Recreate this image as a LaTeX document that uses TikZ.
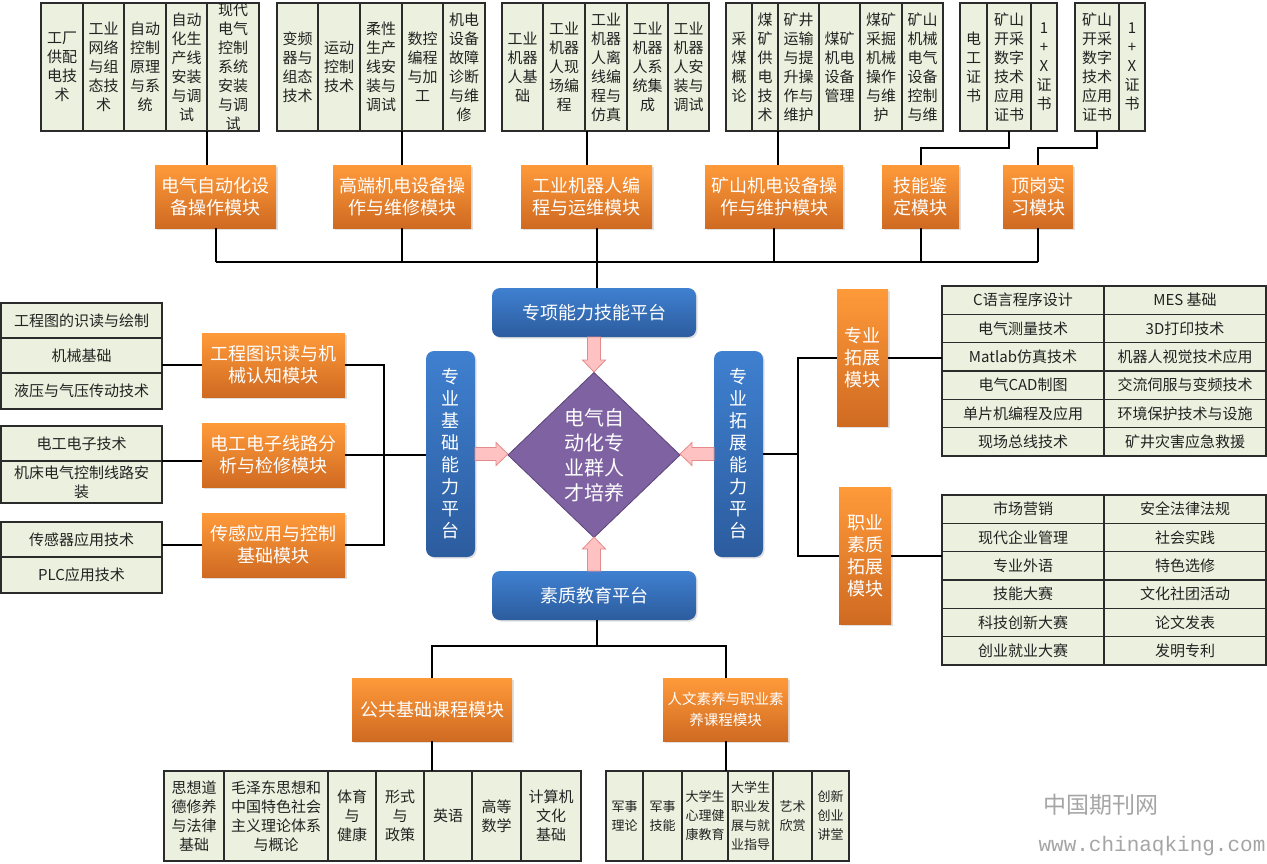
\documentclass[tikz,border=0pt]{standalone}
\usepackage{fontspec}
\setmainfont{Noto Sans CJK SC}
\newfontfamily\wmmono{Liberation Mono}
\usetikzlibrary{shapes.geometric,shadows,calc}

\definecolor{cellfill}{HTML}{EBF1DE}
\definecolor{cellline}{HTML}{2B2B2B}
\definecolor{orTop}{HTML}{FF9A3A}
\definecolor{orBot}{HTML}{CF6A22}
\definecolor{blTop}{HTML}{3F80D0}
\definecolor{blBot}{HTML}{2C5C9E}
\definecolor{dia}{HTML}{7F62A1}
\definecolor{diaLine}{HTML}{5B4478}
\definecolor{pinkFill}{HTML}{FFC2C2}
\definecolor{pinkLine}{HTML}{E58A8A}
\definecolor{wmgray}{HTML}{A5A5A5}
\definecolor{celltxt}{HTML}{222222}

\tikzset{
  cellbox/.style={draw=cellline, fill=cellfill, line width=1.1pt, inner sep=0pt, outer sep=0pt},
  celltext/.style={inner sep=0pt, align=center, text=celltxt, font=\fontsize{15}{19}\selectfont},
  smalltext/.style={inner sep=0pt, align=center, text=celltxt, font=\fontsize{13}{19}\selectfont},
  orbox/.style={top color=orTop, bottom color=orBot, draw=none, inner sep=0pt, outer sep=0pt,
    align=center, text=white, font=\fontsize{18}{22}\selectfont,
    drop shadow={opacity=0.25, shadow xshift=1.5pt, shadow yshift=-1.5pt}},
  blbox/.style={top color=blTop, bottom color=blBot, draw=none, rounded corners=8pt, inner sep=0pt, outer sep=0pt,
    align=center, text=white, font=\fontsize{18}{22}\selectfont,
    drop shadow={opacity=0.25, shadow xshift=1.5pt, shadow yshift=-1.5pt}},
  dtext/.style={inner sep=0pt, align=center, text=white, font=\fontsize{20}{25}\selectfont},
  link/.style={draw=black, line width=2pt},
  pinkarrow/.style={fill=pinkFill, draw=pinkLine, line width=0.8pt, line join=miter},
  wmtext/.style={text=wmgray, inner sep=0pt},
}

% cell: name, x1, y1, x2, y2, text
\newcommand\cell[6]{%
  \pgfmathsetmacro\bw{#4-#2}\pgfmathsetmacro\bh{#5-#3}%
  \pgfmathsetmacro\bx{(#2+#4)/2}\pgfmathsetmacro\by{-(#3+#5)/2}%
  \node[cellbox,minimum width=\bw pt,minimum height=\bh pt,label={[celltext]center:{#6}}] (#1) at (\bx pt,\by pt) {};}
% small cell: name, x1, y1, x2, y2, text
\newcommand\scell[6]{%
  \pgfmathsetmacro\bw{#4-#2}\pgfmathsetmacro\bh{#5-#3}%
  \pgfmathsetmacro\bx{(#2+#4)/2}\pgfmathsetmacro\by{-(#3+#5)/2}%
  \node[cellbox,minimum width=\bw pt,minimum height=\bh pt,label={[smalltext]center:{#6}}] (#1) at (\bx pt,\by pt) {};}
% rbox: style, name, x1, y1, x2, y2, text
\newcommand\rbox[7]{%
  \pgfmathsetmacro\bw{#5-#3}\pgfmathsetmacro\bh{#6-#4}%
  \pgfmathsetmacro\bx{(#3+#5)/2}\pgfmathsetmacro\by{-(#4+#6)/2}%
  \node[#1,minimum width=\bw pt,minimum height=\bh pt] (#2) at (\bx pt,\by pt) {#7};}
% fat arrow: start, rotation, length
\newcommand\fatarrow[3]{%
  \begin{scope}[shift={(#1)},rotate=#2]
    \filldraw[pinkarrow] (-6.5pt,0pt) -- (-6.5pt,{-(#3-12)*1pt}) -- (-11.5pt,{-(#3-12)*1pt})
      -- (0pt,{-#3*1pt}) -- (11.5pt,{-(#3-12)*1pt}) -- (6.5pt,{-(#3-12)*1pt}) -- (6.5pt,0pt) -- cycle;
  \end{scope}}

\begin{document}
\begin{tikzpicture}
\fill[white] (0pt,0pt) rectangle (1267pt,-863pt);
\useasboundingbox (0pt,0pt) rectangle (1267pt,-863pt);

% ---------- top course groups ----------
\cell{g1a}{41}{3}{83}{131}{工厂\\供配\\电技\\术}
\cell{g1b}{83}{3}{124}{131}{工业\\网络\\与组\\态技\\术}
\cell{g1c}{124}{3}{166}{131}{自动\\控制\\原理\\与系\\统}
\cell{g1d}{166}{3}{207}{131}{自动\\化生\\产线\\安装\\与调\\试}
\cell{g1e}{207}{3}{259}{131}{现代\\电气\\控制\\系统\\安装\\与调\\试}

\cell{g2a}{277}{3}{318}{131}{变频\\器与\\组态\\技术}
\cell{g2b}{318}{3}{360}{131}{运动\\控制\\技术}
\cell{g2c}{360}{3}{402}{131}{柔性\\生产\\线安\\装与\\调试}
\cell{g2d}{402}{3}{443}{131}{数控\\编程\\与加\\工}
\cell{g2e}{443}{3}{485}{131}{机电\\设备\\故障\\诊断\\与维\\修}

\cell{g3a}{502}{3}{543}{131}{工业\\机器\\人基\\础}
\cell{g3b}{543}{3}{585}{131}{工业\\机器\\人现\\场编\\程}
\cell{g3c}{585}{3}{627}{131}{工业\\机器\\人离\\线编\\程与\\仿真}
\cell{g3d}{627}{3}{668}{131}{工业\\机器\\人系\\统集\\成}
\cell{g3e}{668}{3}{709}{131}{工业\\机器\\人安\\装与\\调试}

\cell{g4a}{726}{3}{752}{131}{采\\煤\\概\\论}
\cell{g4b}{752}{3}{778}{131}{煤\\矿\\供\\电\\技\\术}
\cell{g4c}{778}{3}{819}{131}{矿井\\运输\\与提\\升操\\作与\\维护}
\cell{g4d}{819}{3}{860}{131}{煤矿\\机电\\设备\\管理}
\cell{g4e}{860}{3}{902}{131}{煤矿\\采掘\\机械\\操作\\与维\\护}
\cell{g4f}{902}{3}{943}{131}{矿山\\机械\\电气\\设备\\控制\\与维}

\cell{g5a}{960}{3}{987}{131}{电\\工\\证\\书}
\cell{g5b}{987}{3}{1031}{131}{矿山\\开采\\数字\\技术\\应用\\证书}
\cell{g5c}{1031}{3}{1057}{131}{1\\+\\X\\证\\书}

\cell{g6a}{1075}{3}{1119}{131}{矿山\\开采\\数字\\技术\\应用\\证书}
\cell{g6b}{1119}{3}{1145}{131}{1\\+\\X\\证\\书}

% ---------- top modules ----------
\rbox{orbox}{m1}{155}{165}{276}{228}{电气自动化设\\备操作模块}
\rbox{orbox}{m2}{333}{165}{471}{228}{高端机电设备操\\作与维修模块}
\rbox{orbox}{m3}{521}{165}{652}{228}{工业机器人编\\程与运维模块}
\rbox{orbox}{m4}{705}{165}{843}{228}{矿山机电设备操\\作与维护模块}
\rbox{orbox}{m5}{882}{165}{959}{228}{技能鉴\\定模块}
\rbox{orbox}{m6}{1003}{165}{1073}{228}{顶岗实\\习模块}

% ---------- platforms ----------
\rbox{blbox}{zx}{492}{288}{696}{337}{专项能力技能平台}
\rbox{blbox}{jb}{426}{351}{475}{557}{专\\业\\基\\础\\能\\力\\平\\台}
\rbox{blbox}{tz}{714}{351}{763}{557}{专\\业\\拓\\展\\能\\力\\平\\台}
\rbox{blbox}{sj}{492}{571}{696}{620}{素质教育平台}

% ---------- core diamond ----------
\node[diamond, fill=dia, draw=diaLine, line width=0.8pt, minimum width=172pt, minimum height=165pt,
  inner sep=0pt, outer sep=0pt, label={[dtext]center:{电气自\\动化专\\业群人\\才培养}}] (core) at (594pt,-455pt) {};

\fatarrow{zx.south}{0}{35}
\fatarrow{jb.east}{90}{33}
\fatarrow{tz.west}{-90}{34}
\fatarrow{sj.north}{180}{34}

% ---------- left side ----------
\cell{gl1a}{1}{303}{162}{338}{工程图的识读与绘制}
\cell{gl1b}{1}{338}{162}{373}{机械基础}
\cell{gl1c}{1}{373}{162}{409}{液压与气压传动技术}
\cell{gl2a}{1}{426}{162}{461}{电工电子技术}
\cell{gl2b}{1}{461}{162}{503}{机床电气控制线路安\\装}
\cell{gl3a}{1}{522}{162}{557}{传感器应用技术}
\cell{gl3b}{1}{557}{162}{593}{PLC应用技术}

\rbox{orbox}{lm1}{202}{333}{345}{397}{工程图识读与机\\械认知模块}
\rbox{orbox}{lm2}{202}{423}{345}{487}{电工电子线路分\\析与检修模块}
\rbox{orbox}{lm3}{202}{513}{345}{577}{传感应用与控制\\基础模块}

% ---------- right side ----------
\rbox{orbox}{rm1}{837}{289}{888}{426}{专业\\拓展\\模块}
\rbox{orbox}{rm2}{839}{487}{891}{624}{职业\\素质\\拓展\\模块}

\foreach \a/\b [count=\i] in {C语言程序设计/MES 基础, 电气测量技术/3D打印技术,
  Matlab仿真技术/机器人视觉技术应用, 电气CAD制图/交流伺服与变频技术,
  单片机编程及应用/环境保护技术与设施, 现场总线技术/矿井灾害应急救援}{
  \pgfmathsetmacro\ya{286+(\i-1)*28.333}\pgfmathsetmacro\yb{286+\i*28.333}
  \cell{t1a\i}{942}{\ya}{1104}{\yb}{\a}
  \cell{t1b\i}{1104}{\ya}{1266}{\yb}{\b}
}
\foreach \a/\b [count=\i] in {市场营销/安全法律法规, 现代企业管理/社会实践,
  专业外语/特色选修, 技能大赛/文化社团活动,
  科技创新大赛/论文发表, 创业就业大赛/发明专利}{
  \pgfmathsetmacro\ya{495+(\i-1)*28.333}\pgfmathsetmacro\yb{495+\i*28.333}
  \cell{t2a\i}{942}{\ya}{1104}{\yb}{\a}
  \cell{t2b\i}{1104}{\ya}{1266}{\yb}{\b}
}

% ---------- bottom ----------
\rbox{orbox}{bm1}{352}{678}{512}{741}{公共基础课程模块}
\rbox{orbox,font=\fontsize{14.5}{21}\selectfont}{bm2}{663}{678}{788}{741}{人文素养与职业素\\养课程模块}

\cell{bgl1}{164}{771}{224}{861}{思想道\\德修养\\与法律\\基础}
\cell{bgl2}{224}{771}{328}{861}{毛泽东思想和\\中国特色社会\\主义理论体系\\与概论}
\cell{bgl3}{328}{771}{376}{861}{体育\\与\\健康}
\cell{bgl4}{376}{771}{424}{861}{形式\\与\\政策}
\cell{bgl5}{424}{771}{472}{861}{英语}
\cell{bgl6}{472}{771}{521}{861}{高等\\数学}
\cell{bgl7}{521}{771}{581}{861}{计算机\\文化\\基础}

\scell{bgr1}{606}{771}{643}{861}{军事\\理论}
\scell{bgr2}{643}{771}{682}{861}{军事\\技能}
\scell{bgr3}{682}{771}{728}{861}{大学生\\心理健\\康教育}
\scell{bgr4}{728}{771}{773}{861}{大学生\\职业发\\展与就\\业指导}
\scell{bgr5}{773}{771}{812}{861}{艺术\\欣赏}
\scell{bgr6}{812}{771}{849}{861}{创新\\创业\\讲堂}

% ---------- connectors ----------
\coordinate (bus) at (597pt,-262pt);
\draw[link] (g1e.south west) -- (g1e.south west |- m1.north);
\draw[link] (g2d.south west) -- (g2d.south west |- m2.north);
\draw[link] (m3.north) -- (m3.north |- g3c.south);
\draw[link] (g4c.south west) -- (g4c.south west |- m4.north);
\draw[link] (g5b.south) -- ++(0pt,-17pt) -| (m5.north);
\draw[link] (g6a.south) -- ++(0pt,-17pt) -| (m6.north);

\draw[link] (m1.south) -- (m1.south |- bus);
\draw[link] (m2.south) -- (m2.south |- bus);
\draw[link] (bus |- m3.south) -- (bus |- zx.north);
\draw[link] (m4.south) -- (m4.south |- bus);
\draw[link] (m5.south) -- (m5.south |- bus);
\draw[link] (m6.south) -- (m6.south |- bus);
\draw[link] (m1.south |- bus) -- (m6.south |- bus);

\draw[link] (lm1.west) -- (lm1.west -| gl1b.east);
\draw[link] (gl2a.south east) -- (gl2a.south east -| lm2.west);
\draw[link] (lm3.west) -- (lm3.west -| gl3a.east);
\coordinate (lb) at (384pt,-454pt);
\draw[link] (lm1.east) -| (lb) |- (lm3.east);
\draw[link] (lm2.east) -- (lm2.east -| jb.west);

\coordinate (rb) at (798pt,-454pt);
\draw[link] (tz.east) -- (rb |- tz.east);
\draw[link] (rm1.west) -| (rb) |- (rm2.west);
\draw[link] (rm1.east) -- (rm1.east -| t1a1.west);
\draw[link] (rm2.east) -- (rm2.east -| t2a1.west);

\coordinate (bb) at (597pt,-646pt);
\draw[link] (bb |- sj.south) -- (bb);
\draw[link] (bm1.north) |- (bb) -| (bm2.north);
\draw[link] (bm1.south) -- (bm1.south |- bgl5.north);
\draw[link] (bm2.south) -- (bm2.south |- bgr4.north);

% ---------- watermark ----------
\node[wmtext, font=\fontsize{23}{25}\selectfont] (wm1) at (1101pt,-805pt) {中国期刊网};
\node[wmtext, font=\wmmono\fontsize{21}{24}\selectfont] (wm2) at (1152pt,-846pt) {www.chinaqking.com};
\end{tikzpicture}
\end{document}
